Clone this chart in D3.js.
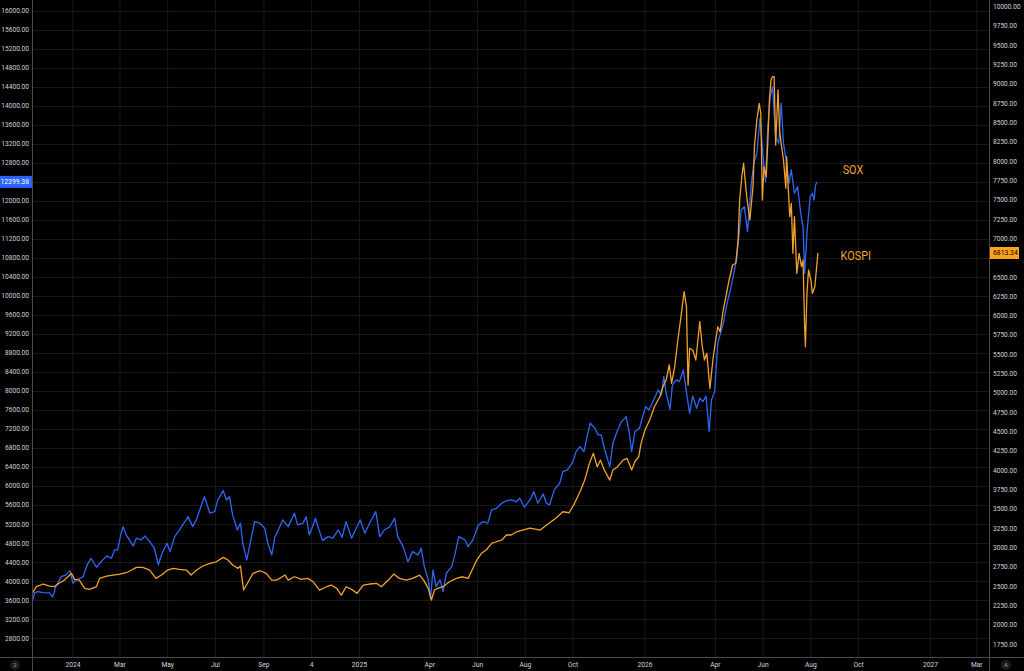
<!DOCTYPE html>
<html>
<head>
<meta charset="utf-8">
<script src="https://cdn.jsdelivr.net/npm/d3@7"></script>
<style>
html,body{margin:0;padding:0;background:#000;}
svg{display:block;}
text{font-family:Roboto,"Noto Sans",sans-serif;}
</style>
</head>
<body>
<svg id="chart" width="1024" height="671"></svg>
<script>
// ---------- DATA ----------
const soxDates = ["2023-11-10","2023-11-13","2023-11-17","2023-11-24","2023-12-02","2023-12-06","2023-12-10","2023-12-17","2023-12-23","2023-12-28",
"2024-01-01","2024-01-05","2024-01-09","2024-01-14","2024-01-19","2024-01-24","2024-01-31","2024-02-06","2024-02-13","2024-02-19",
"2024-02-23","2024-02-27","2024-03-02","2024-03-05","2024-03-09","2024-03-13","2024-03-18","2024-03-22","2024-03-28","2024-04-02",
"2024-04-08","2024-04-14","2024-04-19","2024-04-23","2024-04-30","2024-05-04","2024-05-10","2024-05-16","2024-05-23","2024-05-27",
"2024-06-02","2024-06-07","2024-06-11","2024-06-17","2024-06-24","2024-06-30","2024-07-04","2024-07-11","2024-07-15","2024-07-19",
"2024-07-23","2024-07-29","2024-08-02","2024-08-05","2024-08-10","2024-08-14","2024-08-20","2024-08-27","2024-09-02","2024-09-06",
"2024-09-11","2024-09-15","2024-09-19","2024-09-25","2024-10-02","2024-10-10","2024-10-14","2024-10-21","2024-10-25","2024-10-29",
"2024-11-06","2024-11-09","2024-11-15","2024-11-22","2024-11-28","2024-12-05","2024-12-10","2024-12-15","2024-12-22","2024-12-28",
"2025-01-02","2025-01-08","2025-01-14","2025-01-22","2025-01-27","2025-02-02","2025-02-09","2025-02-15","2025-02-19","2025-02-26",
"2025-03-04","2025-03-10","2025-03-17","2025-03-21","2025-03-25","2025-03-30","2025-04-02","2025-04-05","2025-04-09","2025-04-14",
"2025-04-18","2025-04-22","2025-04-29","2025-05-03","2025-05-08","2025-05-16","2025-05-20","2025-05-26","2025-06-02","2025-06-08",
"2025-06-14","2025-06-19","2025-06-25","2025-07-02","2025-07-08","2025-07-14","2025-07-21","2025-07-25","2025-07-31","2025-08-07",
"2025-08-12","2025-08-17","2025-08-24","2025-08-28","2025-09-01","2025-09-07","2025-09-14","2025-09-18","2025-09-24","2025-10-01",
"2025-10-05","2025-10-10","2025-10-15","2025-10-19","2025-10-23","2025-10-29","2025-11-02","2025-11-06","2025-11-10","2025-11-17",
"2025-11-21","2025-11-27","2025-12-02","2025-12-08","2025-12-12","2025-12-15","2025-12-19","2025-12-25","2025-12-29","2026-01-02",
"2026-01-06","2026-01-11","2026-01-18","2026-01-22","2026-01-25","2026-01-28","2026-02-02","2026-02-05","2026-02-10","2026-02-14",
"2026-02-19","2026-02-22","2026-02-27","2026-03-03","2026-03-08","2026-03-12","2026-03-16","2026-03-20","2026-03-24","2026-03-27",
"2026-03-31","2026-04-04","2026-04-11","2026-04-16","2026-04-21","2026-04-28","2026-05-01","2026-05-04","2026-05-08","2026-05-12",
"2026-05-17","2026-05-20","2026-05-24","2026-05-28","2026-06-01","2026-06-04","2026-06-07","2026-06-10","2026-06-13","2026-06-17",
"2026-06-21","2026-06-24","2026-06-27","2026-06-30","2026-07-04","2026-07-07","2026-07-11","2026-07-15","2026-07-19","2026-07-22",
"2026-07-24","2026-07-27","2026-07-31","2026-08-03","2026-08-05","2026-08-07","2026-08-09"];
const soxValues = [3571,3754,3782,3761,3754,3664,3887,4097,4133,4223,
3958,4028,4055,4097,4343,4484,4295,4412,4532,4484,
4658,4658,4974,5149,4974,4869,4743,4905,4869,4953,
4833,4694,4343,4553,4799,4623,4938,5079,5254,5359,
5149,5304,5500,5779,5430,5464,5710,5906,5710,5779,
5395,5079,5220,4799,4448,4764,5254,5220,5115,4799,
4553,4938,5060,5289,5149,5430,5184,5220,5359,4974,
5325,5149,4854,4938,4905,5079,4926,5254,4905,5115,
5289,5010,5220,5464,4938,5079,5149,5325,4938,4728,
4412,4623,4553,4694,4307,4028,3643,4238,3887,4028,
3782,4169,4307,4553,4938,4869,4728,4869,5184,5254,
5220,5500,5535,5641,5695,5710,5674,5746,5557,5710,
5885,5641,5836,5641,5605,5920,6061,6305,6341,6515,
6726,6831,6726,7041,7323,7218,7077,7077,6797,6410,
6902,7182,7357,7462,7113,6726,7146,7218,7462,7672,
7603,7777,8023,7918,8303,7954,7617,8128,8234,8198,
8444,8093,7533,7897,7638,7849,7777,7897,7146,7813,
7988,9005,9426,9847,10196,10757,11247,11809,11878,11352,
12370,12791,13001,13737,12930,12404,13561,14191,14402,13350,
13211,14053,13211,12896,12370,12650,12160,12299,11739,11458,
10477,11319,12088,12160,12019,12334,12399.38];

const kospiDates = ["2023-11-10","2023-11-15","2023-11-24","2023-12-02","2023-12-08","2023-12-15","2023-12-21","2023-12-28","2023-12-30","2024-01-03",
"2024-01-09","2024-01-16","2024-01-22","2024-01-31","2024-02-04","2024-02-13","2024-02-21","2024-03-01","2024-03-09","2024-03-16",
"2024-03-22","2024-03-30","2024-04-08","2024-04-16","2024-04-23","2024-05-01","2024-05-08","2024-05-16","2024-05-25","2024-05-31",
"2024-06-07","2024-06-15","2024-06-24","2024-07-02","2024-07-11","2024-07-17","2024-07-23","2024-07-30","2024-08-02","2024-08-06",
"2024-08-12","2024-08-18","2024-08-27","2024-09-04","2024-09-11","2024-09-17","2024-09-21","2024-09-28","2024-10-02","2024-10-10",
"2024-10-19","2024-10-27","2024-11-03","2024-11-11","2024-11-20","2024-11-26","2024-12-03","2024-12-09","2024-12-15","2024-12-22",
"2024-12-29","2025-01-06","2025-01-14","2025-01-23","2025-01-29","2025-02-07","2025-02-14","2025-02-21","2025-03-02","2025-03-10",
"2025-03-19","2025-03-24","2025-03-30","2025-04-03","2025-04-07","2025-04-11","2025-04-18","2025-04-26","2025-05-05","2025-05-13",
"2025-05-20","2025-05-24","2025-05-31","2025-06-06","2025-06-12","2025-06-19","2025-06-25","2025-07-02","2025-07-08","2025-07-14",
"2025-07-21","2025-07-25","2025-08-07","2025-08-20","2025-08-30","2025-09-09","2025-09-18","2025-09-26","2025-10-03","2025-10-10",
"2025-10-16","2025-10-22","2025-10-27","2025-11-01","2025-11-05","2025-11-10","2025-11-17","2025-11-21","2025-11-27","2025-12-04",
"2025-12-09","2025-12-15","2025-12-19","2025-12-24","2025-12-27","2026-01-01","2026-01-07","2026-01-13","2026-01-20","2026-01-24",
"2026-01-28","2026-02-01","2026-02-04","2026-02-08","2026-02-12","2026-02-16","2026-02-20","2026-02-23","2026-02-25","2026-02-27",
"2026-03-03","2026-03-07","2026-03-12","2026-03-15","2026-03-18","2026-03-21","2026-03-25","2026-03-29","2026-04-01","2026-04-04",
"2026-04-07","2026-04-11","2026-04-14","2026-04-18","2026-04-23","2026-04-27","2026-04-30","2026-05-02","2026-05-05","2026-05-07",
"2026-05-11","2026-05-15","2026-05-19","2026-05-21","2026-05-24","2026-05-27","2026-05-29","2026-05-31","2026-06-02","2026-06-05",
"2026-06-07","2026-06-09","2026-06-11","2026-06-13","2026-06-15","2026-06-17","2026-06-20","2026-06-22","2026-06-24","2026-06-27",
"2026-06-30","2026-07-01","2026-07-05","2026-07-07","2026-07-09","2026-07-11","2026-07-14","2026-07-17","2026-07-20","2026-07-22",
"2026-07-24","2026-07-25","2026-07-27","2026-07-29","2026-08-01","2026-08-03","2026-08-06","2026-08-08","2026-08-10"];
const kospiValues = [2409,2495,2530,2504,2495,2547,2581,2646,2668,2590,
2581,2474,2461,2495,2603,2633,2646,2659,2676,2711,
2746,2746,2711,2603,2646,2711,2733,2720,2711,2646,
2711,2763,2798,2818,2875,2840,2776,2733,2763,2452,
2559,2668,2702,2668,2581,2581,2603,2646,2581,2624,
2590,2603,2559,2452,2495,2517,2474,2387,2495,2461,
2409,2517,2530,2539,2495,2581,2659,2603,2581,2603,
2646,2581,2474,2323,2452,2474,2495,2559,2603,2624,
2603,2689,2840,2927,2970,3056,3077,3099,3164,3164,
3206,3219,3254,3228,3306,3380,3465,3452,3574,3724,
3875,4092,4221,4048,4134,4005,3875,4005,4048,4134,
4156,4005,4112,4177,4350,4522,4652,4824,4953,5083,
5169,5364,5127,5342,5687,5989,6312,6118,5105,5580,
5558,5428,5924,5622,5428,5515,5062,5450,5665,5859,
5794,6075,6227,6441,6658,6680,6981,7499,7822,7974,
7541,7240,7671,8210,8534,8750,8621,7499,7930,7800,
8275,8793,9051,9094,9094,8210,8922,8404,8232,8016,
7650,8059,7283,7456,6809,7283,6550,6809,6636,6722,
5859,5600,6291,6593,6463,6291,6377,6593,6813.34];

const leftTicks = d3.range(2800, 16001, 400);
const rightTicks = d3.range(1750, 10001, 250);
const timeTickDates = ["2024-01-01","2024-03-01","2024-05-01","2024-07-01","2024-09-01","2024-11-01","2025-01-01","2025-04-01","2025-06-01","2025-08-01","2025-10-01","2026-01-01","2026-04-01","2026-06-01","2026-08-01","2026-10-01","2027-01-01","2027-03-01"];
const timeTickLabels = ["2024","Mar","May","Jul","Sep","4","2025","Apr","Jun","Aug","Oct","2026","Apr","Jun","Aug","Oct","2027","Mar"];
const seriesNames = ["SOX","KOSPI"];
const lastSox = 12399.38, lastKospi = 6813.34;

// ---------- SETUP ----------
const W = 1024, H = 671;
const plotL = 32.5, plotR = 989.5, plotB = 657.5;
const parse = d3.utcParse("%Y-%m-%d");
const svg = d3.select("#chart");

const x = d3.scaleUtc().domain([parse("2024-01-01"), parse("2027-01-01")]).range([73, 930.6]);
const yL = d3.scaleLinear().domain([2800, 16000]).range([638.3, 10.7]);
const yR = d3.scaleLinear().domain([1750, 10000]).range([644.3, 6.7]);

const gridColor = "#181818", axisColor = "#4a4a4a", textColor = "#d1d4dc";
const blue = "#2f66f6", orange = "#f2a22c";

svg.append("rect").attr("width", W).attr("height", H).attr("fill", "#000");

// grid
const grid = svg.append("g");
grid.selectAll("line.v").data(timeTickDates).join("line")
  .attr("x1", d => x(parse(d))).attr("x2", d => x(parse(d)))
  .attr("y1", 0).attr("y2", plotB).attr("stroke", gridColor).attr("stroke-width", 1);
grid.selectAll("line.h").data(leftTicks).join("line")
  .attr("x1", plotL).attr("x2", plotR)
  .attr("y1", d => Math.round(yL(d)) + 0.5).attr("y2", d => Math.round(yL(d)) + 0.5)
  .attr("stroke", gridColor).attr("stroke-width", 1);

// series
svg.append("clipPath").attr("id", "plotclip").append("rect")
  .attr("x", plotL).attr("y", 0).attr("width", plotR - plotL).attr("height", plotB);
const soxData = soxDates.map((d, i) => [parse(d), soxValues[i]]);
const kospiData = kospiDates.map((d, i) => [parse(d), kospiValues[i]]);
const lineL = d3.line().x(d => x(d[0])).y(d => yL(d[1]));
const lineR = d3.line().x(d => x(d[0])).y(d => yR(d[1]));
const lines = svg.append("g").attr("clip-path", "url(#plotclip)");
lines.append("path").datum(soxData).attr("d", lineL)
  .attr("fill", "none").attr("stroke", blue).attr("stroke-width", 1.3).attr("stroke-linejoin", "round");
lines.append("path").datum(kospiData).attr("d", lineR)
  .attr("fill", "none").attr("stroke", orange).attr("stroke-width", 1.3).attr("stroke-linejoin", "round");

// series labels
const lastS = soxData[soxData.length - 1], lastK = kospiData[kospiData.length - 1];
svg.append("text").attr("x", x(lastS[0]) + 25.5).attr("y", yL(lastS[1]) - 7.6)
  .attr("fill", orange).attr("font-size", 12.5).attr("font-family", "'Liberation Sans Narrow','Liberation Sans',sans-serif")
  .attr("textLength", 20.6).attr("lengthAdjust", "spacingAndGlyphs").text(seriesNames[0]);
svg.append("text").attr("x", x(lastK[0]) + 22.7).attr("y", yR(lastK[1]) + 7)
  .attr("fill", orange).attr("font-size", 12.5).attr("font-family", "'Liberation Sans Narrow','Liberation Sans',sans-serif")
  .attr("textLength", 30.3).attr("lengthAdjust", "spacingAndGlyphs").text(seriesNames[1]);

// axes borders
svg.append("line").attr("x1", plotL).attr("x2", plotL).attr("y1", 0).attr("y2", H).attr("stroke", axisColor);
svg.append("line").attr("x1", plotR).attr("x2", plotR).attr("y1", 0).attr("y2", H).attr("stroke", axisColor);
svg.append("line").attr("x1", 0).attr("x2", W).attr("y1", plotB).attr("y2", plotB).attr("stroke", axisColor);

// left axis labels (labels hidden under the price tag are skipped)
const fmt = d3.format(".2f");
svg.append("g").selectAll("text").data(leftTicks.filter(d => Math.abs(yL(d) - yL(lastSox)) > 8)).join("text")
  .attr("x", 29).attr("y", d => yL(d)).attr("dy", "0.35em")
  .attr("text-anchor", "end").attr("font-size", 6.6).attr("fill", textColor).text(d => fmt(d));
// right axis labels
svg.append("g").selectAll("text").data(rightTicks.filter(d => Math.abs(yR(d) - yR(lastKospi)) > 8)).join("text")
  .attr("x", 993).attr("y", d => yR(d)).attr("dy", "0.35em")
  .attr("text-anchor", "start").attr("font-size", 6.6).attr("fill", textColor).text(d => fmt(d));
// time axis labels
svg.append("g").selectAll("text").data(timeTickDates).join("text")
  .attr("x", d => x(parse(d))).attr("y", 665).attr("dy", "0.35em")
  .attr("text-anchor", "middle").attr("font-size", 6.7).attr("fill", textColor)
  .text((d, i) => timeTickLabels[i]);

// price tags
const tagL = svg.append("g");
tagL.append("rect").attr("x", 0).attr("y", yL(lastSox) - 6).attr("width", 32).attr("height", 12).attr("fill", "#2962ff");
tagL.append("text").attr("x", 29).attr("y", yL(lastSox)).attr("dy", "0.35em").attr("text-anchor", "end")
  .attr("font-size", 6.8).attr("fill", "#fff").text(fmt(lastSox));
const tagR = svg.append("g");
tagR.append("rect").attr("x", 990).attr("y", yR(lastKospi) - 6).attr("width", 29).attr("height", 12).attr("fill", "#ffa31a");
tagR.append("text").attr("x", 993).attr("y", yR(lastKospi)).attr("dy", "0.35em").attr("text-anchor", "start")
  .attr("font-size", 6.8).attr("fill", "#000").text(fmt(lastKospi));

// corner buttons
svg.append("circle").attr("cx", 15).attr("cy", 665).attr("r", 5).attr("fill", "#1c1c1c");
svg.append("text").attr("x", 15).attr("y", 665).attr("dy", "0.35em").attr("text-anchor", "middle")
  .attr("font-size", 6).attr("fill", "#9a9a9a").text("2");
svg.append("circle").attr("cx", 1006).attr("cy", 665).attr("r", 5).attr("fill", "#1c1c1c");
svg.append("text").attr("x", 1006).attr("y", 665).attr("dy", "0.35em").attr("text-anchor", "middle")
  .attr("font-size", 6).attr("fill", "#9a9a9a").text("A");
</script>
</body>
</html>
